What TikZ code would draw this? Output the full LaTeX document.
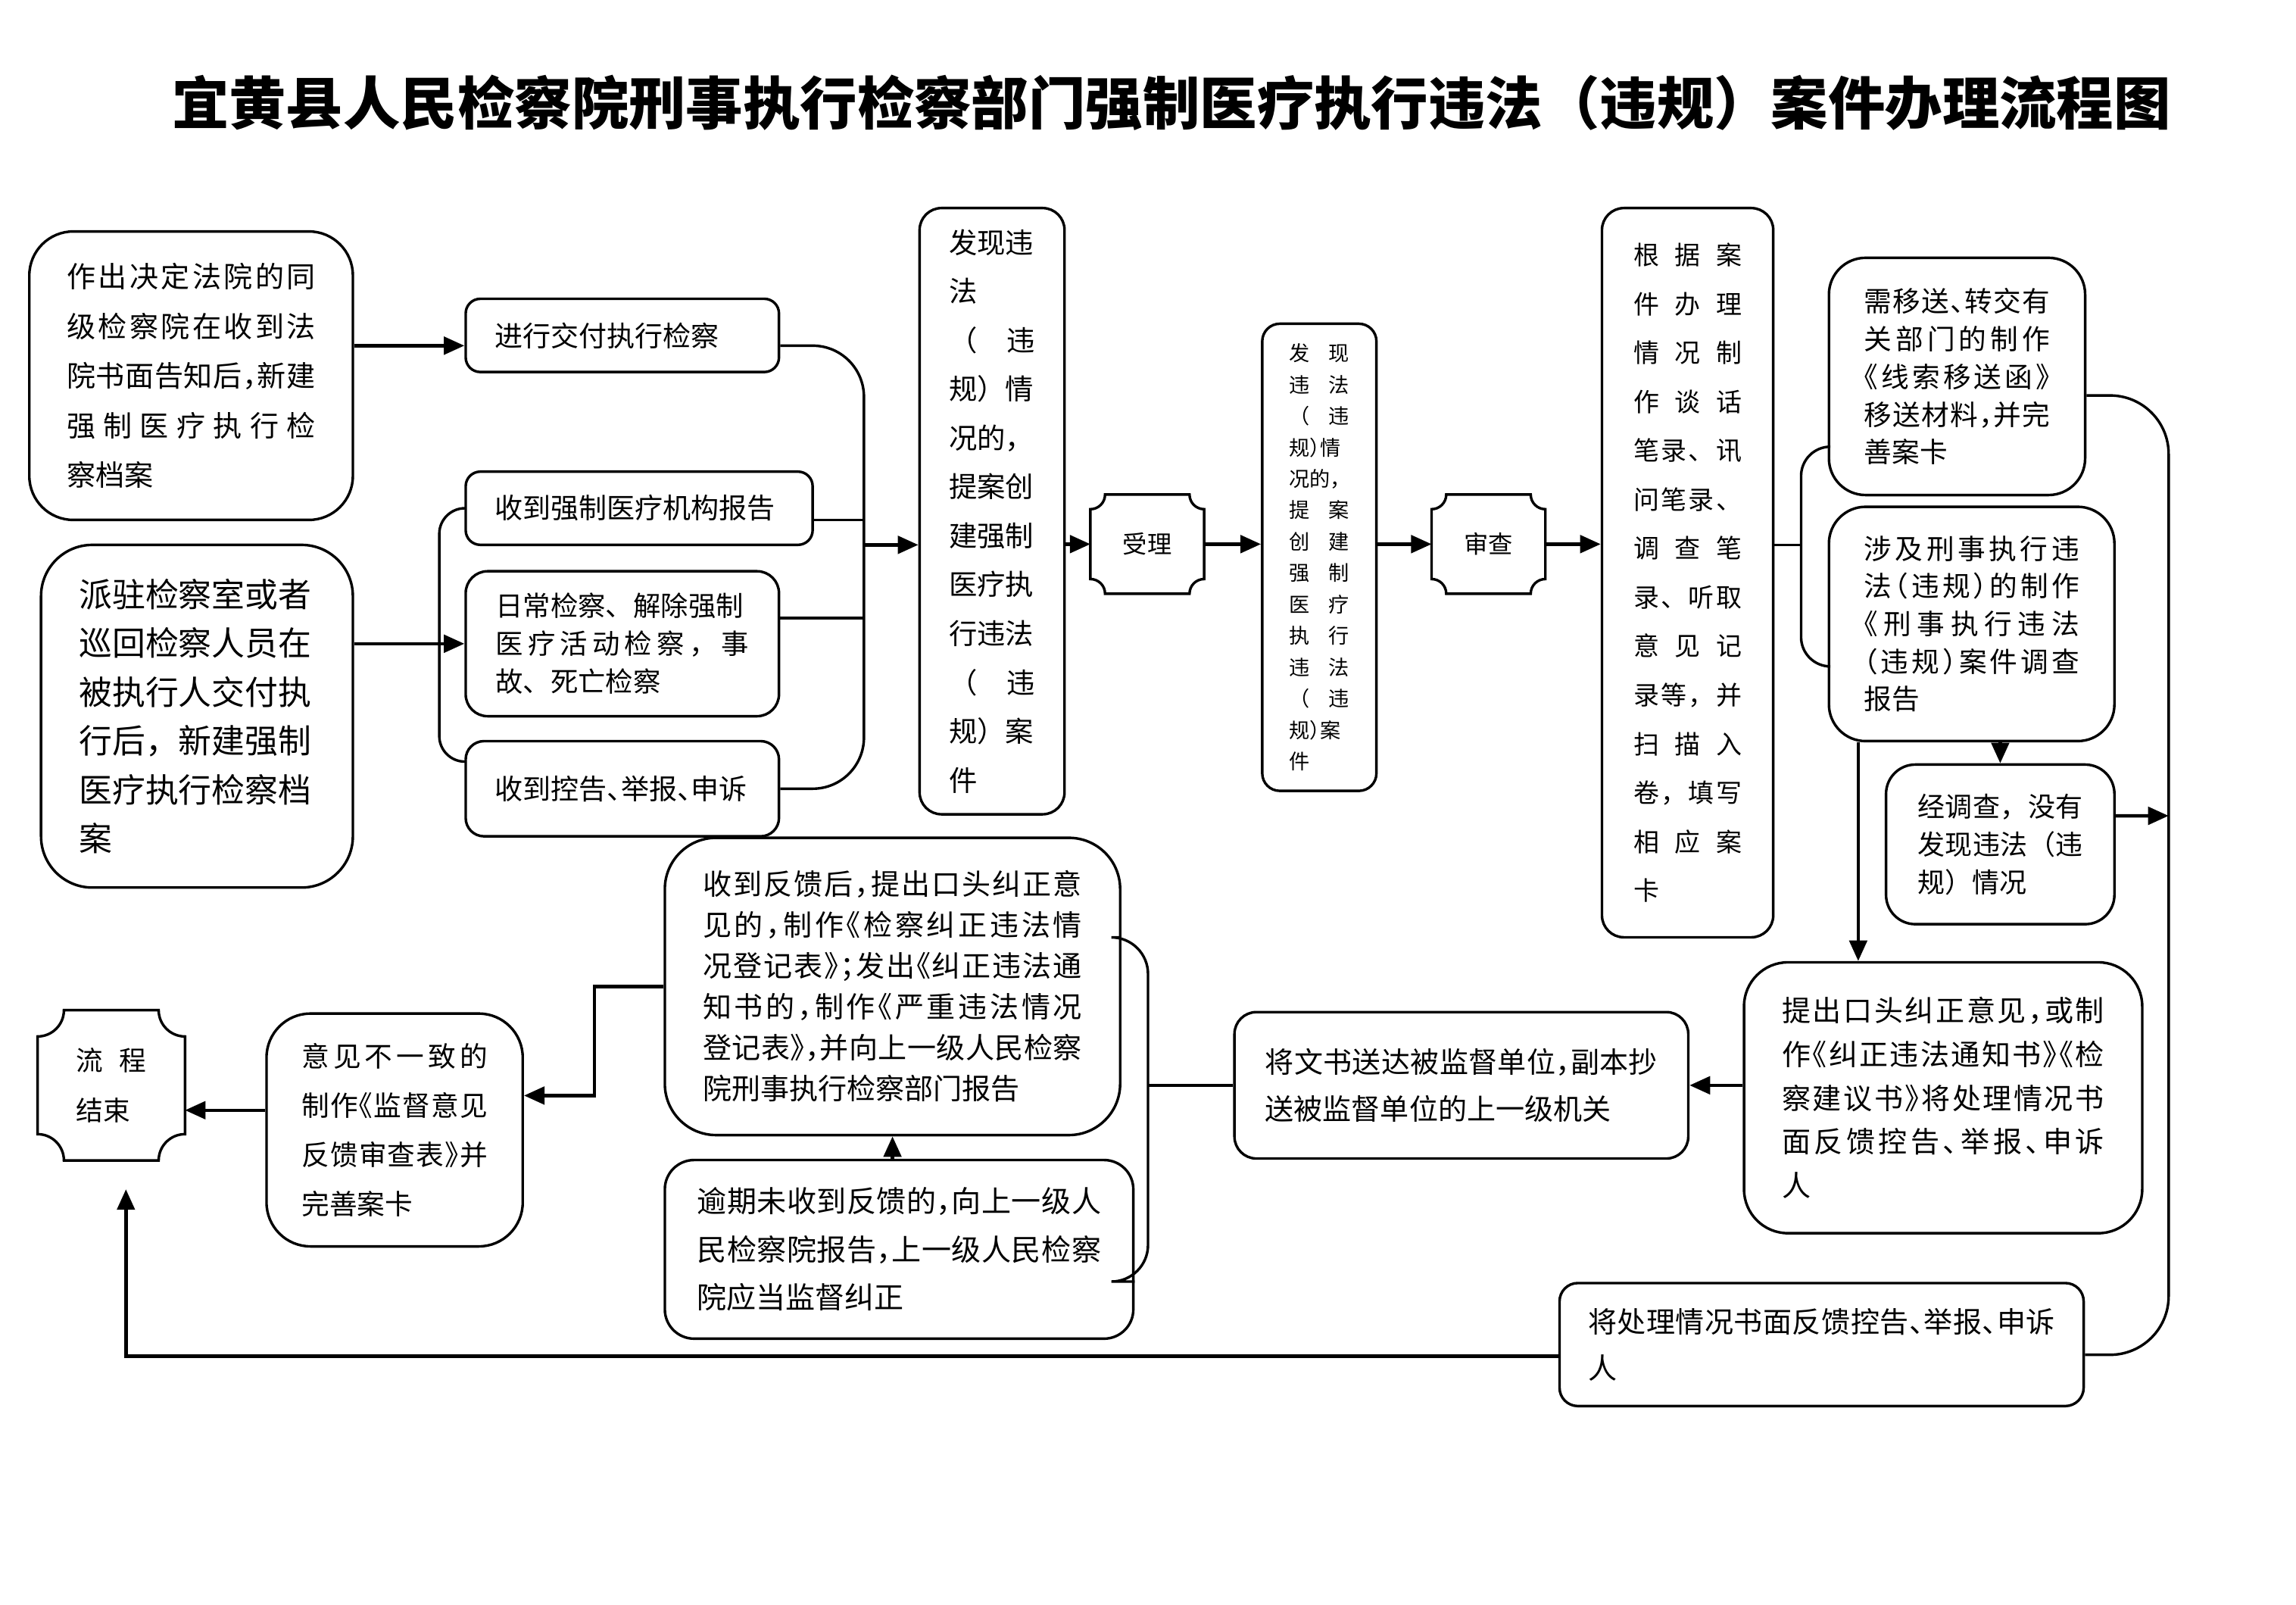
\documentclass[tikz,border=0pt]{standalone}
\usepackage{fontspec}
\setmainfont{Noto Sans CJK SC}
\newfontfamily\haltfont{Noto Sans CJK SC}[RawFeature=+halt]
\usetikzlibrary{arrows.meta}
\newcommand\halfp[1]{{\haltfont #1}}
\newcommand\spr[1]{\makebox[\hsize][s]{\spaceskip=0pt plus 1fil\relax #1}}
\newcommand\fsz[2]{\fontsize{#1}{#2}\selectfont}
\newcommand\plaque[2]{\draw[line width=1pt] ([xshift=#2]#1.north west) -- ([xshift=-#2]#1.north east) arc[start angle=180,end angle=270,radius=#2] -- ([yshift=#2]#1.south east) arc[start angle=90,end angle=180,radius=#2] -- ([xshift=#2]#1.south west) arc[start angle=0,end angle=90,radius=#2] -- ([yshift=-#2]#1.north west) arc[start angle=270,end angle=360,radius=#2] -- cycle;}
\tikzset{
  box/.style={draw, line width=1pt, rounded corners=#1, align=left, inner sep=0pt},
  box/.default=0.3cm,
  plq/.style={inner sep=0pt, align=left},
  conn/.style={line width=1pt},
  arr/.style={line width=1.3pt, -{Triangle[length=0.28cm,width=0.24cm]}},
}
\begin{document}
\begin{tikzpicture}[x=0.02cm, y=-0.02cm]
\useasboundingbox (0,0) rectangle (1568,1095.4);
\node[font={\bfseries\fsz{22.2pt}{26pt}}] (title) at (800,70) {宜黄县人民检察院刑事执行检察部门强制医疗执行违法（违规）案件办理流程图};

\node[box=0.6cm, minimum width=4.42cm, minimum height=3.94cm, text width=3.40cm, font={\fsz{11.2pt}{19.3pt}}] (A) at (130.5,256.5) {\spr{作 出 决 定 法 院 的 同}\\\spr{级 检 察 院 在 收 到 法}\\\spr{院 书 面 告 知 后 \halfp{，} 新 建}\\\spr{强 制 医 疗 执 行 检}\\察档案};
\node[box=0.7cm, minimum width=4.26cm, minimum height=4.68cm, text width=3.22cm, font={\fsz{12.9pt}{19pt}}] (B) at (134.5,489) {派驻检察室或者\\巡回检察人员在\\被执行人交付执\\行后，新建强制\\医疗执行检察档\\案};
\node[box=0.2cm, minimum width=4.28cm, minimum height=1.0cm, text width=3.48cm, font={\fsz{10.9pt}{14pt}}] (C) at (425,229) {进行交付执行检察};
\node[box=0.2cm, minimum width=4.74cm, minimum height=1.0cm, text width=3.94cm, font={\fsz{10.9pt}{14pt}}] (D) at (436.5,347) {收到强制医疗机构报告};
\node[box=0.3cm, minimum width=4.28cm, minimum height=1.98cm, text width=3.46cm, font={\fsz{10.7pt}{14.7pt}}] (E) at (425,439.5) {日常检察、解除强制\\\spr{医 疗 活 动 检 察 ， 事}\\故、死亡检察};
\node[box=0.25cm, minimum width=4.28cm, minimum height=1.3cm, text width=3.48cm, font={\fsz{10.9pt}{14pt}}] (F) at (425,538.5) {收到控告\halfp{、}举报\halfp{、}申诉};

\node[box=0.3cm, minimum width=1.98cm, minimum height=8.28cm, text width=1.18cm, font={\fsz{11pt}{19pt}}] (G) at (677.5,349) {发现违\\法\\\spr{（ 违}\\规）情\\况的，\\提案创\\建强制\\医疗执\\行违法\\\spr{（ 违}\\规）案\\件};
\node[plq, minimum width=1.54cm, minimum height=1.34cm, font={\fsz{9.5pt}{12pt}}] (H) at (783.5,371.5) {受理};
\plaque{H}{0.2cm}
\node[box=0.24cm, minimum width=1.56cm, minimum height=6.38cm, text width=0.82cm, font={\fsz{8pt}{12.2pt}}] (I) at (901,380.5) {\spr{发 现}\\\spr{违 法}\\\spr{（ 违}\\规\halfp{）}情\\况的\halfp{，}\\\spr{提 案}\\\spr{创 建}\\\spr{强 制}\\\spr{医 疗}\\\spr{执 行}\\\spr{违 法}\\\spr{（ 违}\\规\halfp{）}案\\件};
\node[plq, minimum width=1.54cm, minimum height=1.34cm, font={\fsz{9.5pt}{12pt}}] (J) at (1016.5,371.5) {审查};
\plaque{J}{0.2cm}
\node[box=0.3cm, minimum width=2.34cm, minimum height=9.96cm, text width=1.48cm, font={\fsz{10pt}{19pt}}] (K) at (1152.5,391) {\spr{根 据 案}\\\spr{件 办 理}\\\spr{情 况 制}\\\spr{作 谈 话}\\\spr{笔 录 、 讯}\\\spr{问 笔 录 、}\\\spr{调 查 笔}\\\spr{录 、 听 取}\\\spr{意 见 记}\\\spr{录 等 ， 并}\\\spr{扫 描 入}\\\spr{卷 ， 填 写}\\\spr{相 应 案}\\卡};

\node[box=0.5cm, minimum width=3.5cm, minimum height=3.24cm, text width=2.54cm, font={\fsz{10.8pt}{14.7pt}}] (L) at (1336.5,257) {\spr{需 移 送 \halfp{、} 转 交 有}\\\spr{关 部 门 的 制 作}\\\spr{\halfp{《} 线 索 移 送 函 \halfp{》}}\\\spr{移 送 材 料 \halfp{，} 并 完}\\善案卡};
\node[box=0.5cm, minimum width=3.9cm, minimum height=3.2cm, text width=2.94cm, font={\fsz{10.8pt}{14.6pt}}] (M) at (1346.5,426) {\spr{涉 及 刑 事 执 行 违}\\\spr{法 \halfp{（} 违 规 \halfp{）} 的 制 作}\\\spr{\halfp{《} 刑 事 执 行 违 法}\\\spr{\halfp{（} 违 规 \halfp{）} 案 件 调 查}\\报告};
\node[box=0.4cm, minimum width=3.12cm, minimum height=2.18cm, text width=2.26cm, font={\fsz{10.6pt}{14.7pt}}] (N) at (1366,576.5) {\spr{经 调 查 ， 没 有}\\\spr{发 现 违 法 （ 违}\\规）情况};
\node[box=0.6cm, minimum width=5.44cm, minimum height=3.7cm, text width=4.4cm, font={\fsz{11.2pt}{17pt}}] (P) at (1327,749.5) {\spr{提 出 口 头 纠 正 意 见 \halfp{，} 或 制}\\\spr{作 \halfp{《} 纠 正 违 法 通 知 书 \halfp{》} \halfp{《} 检}\\\spr{察 建 议 书 \halfp{》} 将 处 理 情 况 书}\\\spr{面 反 馈 控 告 \halfp{、} 举 报 \halfp{、} 申 诉}\\人};
\node[box=0.3cm, minimum width=6.2cm, minimum height=2.0cm, text width=5.36cm, font={\fsz{11.2pt}{18.1pt}}] (Q) at (998,741) {\spr{将 文 书 送 达 被 监 督 单 位 \halfp{，} 副 本 抄}\\送被监督单位的上一级机关};
\node[box=0.25cm, minimum width=7.16cm, minimum height=1.68cm, text width=6.38cm, font={\fsz{11.2pt}{18.1pt}}] (O) at (1244,918) {\spr{将 处 理 情 况 书 面 反 馈 控 告 \halfp{、} 举 报 \halfp{、} 申 诉}\\人};

\node[box=0.7cm, minimum width=6.22cm, minimum height=4.06cm, text width=5.18cm, font={\fsz{11.2pt}{15.9pt}}] (R) at (609.5,673.5) {\spr{收 到 反 馈 后 \halfp{，} 提 出 口 头 纠 正 意}\\\spr{见 的 \halfp{，} 制 作 \halfp{《} 检 察 纠 正 违 法 情}\\\spr{况 登 记 表 \halfp{》} \halfp{；} 发 出 \halfp{《} 纠 正 违 法 通}\\\spr{知 书 的 \halfp{，} 制 作 \halfp{《} 严 重 违 法 情 况}\\\spr{登 记 表 \halfp{》} \halfp{，} 并 向 上 一 级 人 民 检 察}\\院刑事执行检察部门报告};
\node[box=0.4cm, minimum width=6.4cm, minimum height=2.44cm, text width=5.52cm, font={\fsz{11.5pt}{18.7pt}}] (S) at (614,853) {\spr{逾 期 未 收 到 反 馈 的 \halfp{，} 向 上 一 级 人}\\\spr{民 检 察 院 报 告 \halfp{，} 上 一 级 人 民 检 察}\\院应当监督纠正};
\node[box=0.6cm, minimum width=3.5cm, minimum height=3.18cm, text width=2.54cm, font={\fsz{10.8pt}{19.1pt}}] (T) at (269.5,771.5) {\spr{意 见 不 一 致 的}\\\spr{制 作 \halfp{《} 监 督 意 见}\\\spr{反 馈 审 查 表 \halfp{》} 并}\\完善案卡};
\node[plq, minimum width=2.0cm, minimum height=2.04cm, text width=0.96cm, font={\fsz{10.5pt}{19.3pt}}] (U) at (76,741) {\spr{流 程}\\结束};
\plaque{U}{0.36cm}

% connectors
\coordinate (cin) at ([yshift=-0.14cm]C.west);
\coordinate (cout) at ([yshift=-0.14cm]C.east);
\draw[arr] (A.east |- cin) -- (cin);
\draw[arr] (B.east |- E.west) -- (E.west);
\coordinate (lbx) at (300,438);
\draw[conn, rounded corners=0.35cm] (D.west) -| (lbx) |- ([yshift=0.37cm]F.west);
\coordinate (rbx) at (590,372);
\draw[conn, rounded corners=0.7cm] (cout) -| (rbx) |- (F.east);
\draw[conn] ([yshift=-0.16cm]D.east) -- ([yshift=-0.16cm]D.east -| rbx);
\draw[conn] ([yshift=0.35cm]E.east) -- ([yshift=0.35cm]E.east -| rbx);
\draw[arr] (rbx) -- (rbx -| G.west);
\draw[arr] (G.east |- H.west) -- (H.west);
\draw[arr] (H.east) -- (H.east -| I.west);
\draw[arr] (I.east |- J.west) -- (J.west);
\draw[arr] (J.east) -- (J.east -| K.west);
\coordinate (kbx) at (1230,372);
\draw[conn] (K.east |- kbx) -- (kbx);
\draw[conn, rounded corners=0.4cm] ([yshift=-0.96cm]L.west) -| (kbx) |- ([yshift=-0.58cm]M.west);
\coordinate (rvx) at (1481,557);
\draw[conn, rounded corners=0.8cm] ([yshift=-0.26cm]L.east) -| (rvx) |- ([yshift=-0.14cm]O.east);
\draw[arr] ([yshift=0.39cm]N.east) -- (rvx);
\draw[arr] (N.north |- M.south) -- (N.north);
\draw[arr] ([xshift=-1.55cm]M.south) -- ([xshift=-1.55cm]M.south |- P.north);
\draw[arr] (P.west |- Q.east) -- (Q.east);
\coordinate (qbx) at (784,741);
\draw[conn] (Q.west) -- (qbx);
\draw[conn, rounded corners=0.5cm] ([yshift=0.67cm]R.east) -| (qbx) |- ([yshift=-0.44cm]S.east);
\draw[arr] (R.south |- S.north) -- (R.south);
\coordinate (rtx) at (406,748);
\draw[arr] (R.west) -| (rtx) -- (rtx -| T.east);
\draw[arr] ([yshift=0.27cm]T.west) -- ([yshift=0.27cm]T.west -| U.east);
\coordinate (uend) at (86,812);
\draw[arr] ([yshift=-0.16cm]O.west) -| (uend);
\end{tikzpicture}
\end{document}
